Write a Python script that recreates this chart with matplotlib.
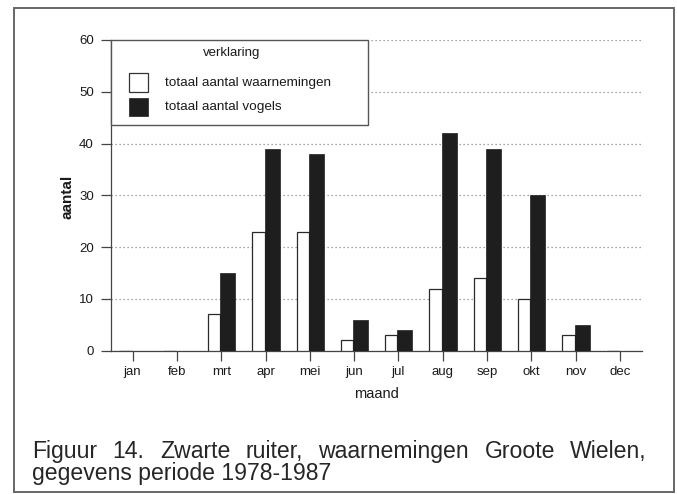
import matplotlib
matplotlib.use('Agg')
import matplotlib.pyplot as plt
from matplotlib.patches import Rectangle
import numpy as np

# ---- data ----
months = ['jan', 'feb', 'mrt', 'apr', 'mei', 'jun', 'jul', 'aug', 'sep', 'okt', 'nov', 'dec']
waarnemingen = [0, 0, 7, 23, 23, 2, 3, 12, 14, 10, 3, 0]
vogels = [0, 0, 15, 39, 38, 6, 4, 42, 39, 30, 5, 0]
yticks = [0, 10, 20, 30, 40, 50, 60]
legend_title = 'verklaring'
legend_labels = ['totaal aantal waarnemingen', 'totaal aantal vogels']
xlabel = 'maand'
ylabel = 'aantal'
caption1 = 'Figuur 14. Zwarte ruiter, waarnemingen Groote Wielen,'
caption2 = 'gegevens periode 1978-1987'

plt.rcParams['font.family'] = ['Liberation Sans', 'DejaVu Sans']

W, H = 677, 494
fig = plt.figure(figsize=(W / 100, H / 100), dpi=100)
fig.patch.set_facecolor('white')


def fx(px):
    return px / W


def fy(py):
    return 1 - py / H


# axes placement (pixels)
ax_l, ax_r, ax_t, ax_b = 110.5, 642, 40, 350.7
ax = fig.add_axes([fx(ax_l), fy(ax_b), (ax_r - ax_l) / W, (ax_b - ax_t) / H])

x = np.arange(len(months))
pxu = (ax_r - ax_l) / 12.0
ww = 12.3 / pxu
bw = 15.0 / pxu
off = -1.0 / pxu
ax.bar(x + off - ww, waarnemingen, width=ww, align='edge', color='white',
       edgecolor='#2a2a2a', linewidth=0.9, zorder=3)
ax.bar(x + off, vogels, width=bw, align='edge', color='#1e1e1e',
       edgecolor='#1e1e1e', linewidth=0.5, zorder=3)

ax.set_xlim(-0.5, 11.5)
ax.set_ylim(0, 60)
ax.set_xticks(x)
ax.set_xticklabels(months)
ax.set_yticks(yticks)
for s in ['top', 'right']:
    ax.spines[s].set_visible(False)
for s in ['left', 'bottom']:
    ax.spines[s].set_color('#444444')
    ax.spines[s].set_linewidth(0.9)
ax.tick_params(axis='both', direction='out', length=7, width=0.9, color='#444444',
               labelsize=9.5, labelcolor='#1a1a1a')
ax.tick_params(axis='y', pad=5)
ax.tick_params(axis='x', pad=4)
ax.yaxis.grid(True, linestyle=(0, (1, 2.2)), color='#888888', linewidth=0.9, zorder=1)
ax.set_axisbelow(True)

ax.set_xlabel(xlabel, fontsize=10.5, color='#1a1a1a', va='baseline')
ax.xaxis.set_label_coords(0.5, (ax_b - 398) / (ax_b - ax_t))
ax.set_ylabel(ylabel, fontsize=11, fontweight='bold', color='#1a1a1a', va='center')
ax.yaxis.set_label_coords((68 - ax_l) / (ax_r - ax_l), (ax_b - 197) / (ax_b - ax_t))

# ---- legend box (manual, figure pixel coordinates) ----
fig.add_artist(Rectangle((fx(110.7), fy(125)), (368 - 110.7) / W, (125 - 40) / H,
                         transform=fig.transFigure, facecolor='white',
                         edgecolor='#555555', linewidth=1.0, zorder=5))
fig.text(fx(232), fy(53), legend_title, fontsize=9.5, ha='center', va='center',
         color='#1a1a1a', zorder=6)
fig.add_artist(Rectangle((fx(129), fy(92)), 19 / W, 19 / H, transform=fig.transFigure,
                         facecolor='white', edgecolor='#333333', linewidth=0.9, zorder=6))
fig.add_artist(Rectangle((fx(129), fy(116)), 19 / W, 18 / H, transform=fig.transFigure,
                         facecolor='#1e1e1e', edgecolor='#1e1e1e', linewidth=0.5, zorder=6))
fig.text(fx(165), fy(83), legend_labels[0], fontsize=9.7, ha='left', va='center',
         color='#1a1a1a', zorder=6)
fig.text(fx(165), fy(107), legend_labels[1], fontsize=9.7, ha='left', va='center',
         color='#1a1a1a', zorder=6)

# ---- outer frame ----
fig.add_artist(Rectangle((fx(14), fy(492)), (674 - 14) / W, (492 - 8) / H,
                         transform=fig.transFigure, facecolor='none',
                         edgecolor='#666666', linewidth=1.4, zorder=10))

# ---- caption (justified line 1) ----
cap_fs = 16.6
renderer = fig.canvas.get_renderer()
words = caption1.split(' ')
texts = [fig.text(0, fy(458), w, fontsize=cap_fs, ha='left', va='baseline', color='#262626')
         for w in words]
widths = [t.get_window_extent(renderer=renderer).width for t in texts]
x0, x1 = 32, 647
gap = (x1 - x0 - sum(widths)) / (len(words) - 1)
cx = x0
for t, w in zip(texts, widths):
    t.set_x(fx(cx))
    cx += w + gap
fig.text(fx(32), fy(479.5), caption2, fontsize=cap_fs, ha='left', va='baseline',
         color='#262626')

fig.savefig('out.png', dpi=100, facecolor='white')
